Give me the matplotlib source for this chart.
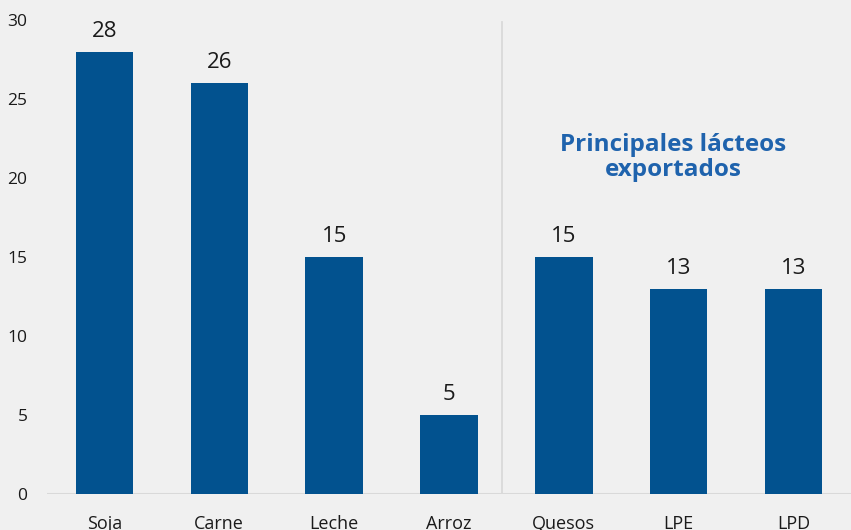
import matplotlib.pyplot as plt

categories = ['Soja', 'Carne', 'Leche', 'Arroz', 'Quesos', 'LPE', 'LPD']
values = [28, 26, 15, 5, 15, 13, 13]
yticks = [0, 5, 10, 15, 20, 25, 30]
note = 'Principales lácteos\nexportados'

bg = '#f0f0f0'
bar_color = '#02528f'
grid_color = '#d9d9d9'

plt.rcParams['font.family'] = ['Open Sans', 'DejaVu Sans']

fig = plt.figure(figsize=(8.51, 5.30), dpi=100, facecolor=bg)
ax = fig.add_axes([47/851, 36/530, 804/851, 474/530], facecolor=bg)

x = list(range(len(categories)))
bars = ax.bar(x, values, width=0.5, color=bar_color, zorder=3)

for xi, v in zip(x, values):
    ax.annotate(str(v), (xi, v), xytext=(0, 7), textcoords='offset points',
                ha='center', va='bottom', fontsize=16, color='#1a1a1a')

# separator between groups
ax.plot([3.46, 3.46], [0, 29.85], color=grid_color, lw=1.3, zorder=1)
ax.axhline(0, color=grid_color, lw=1.5, zorder=2)

ax.text(4.95, 21.3, note, ha='center', va='center', fontsize=17.5,
        fontweight='bold', color='#1f63ad', linespacing=1.05)

ax.set_xlim(-0.5, 6.5)
ax.set_ylim(0, 30)
ax.set_yticks(yticks)
ax.set_xticks(x)
ax.set_xticklabels(categories)
ax.tick_params(axis='y', length=0, pad=14, labelsize=12.5, labelcolor='#1a1a1a')
ax.tick_params(axis='x', length=0, pad=15, labelsize=13, labelcolor='#1a1a1a')
for s in ax.spines.values():
    s.set_visible(False)

fig.savefig('out.png', dpi=100, facecolor=bg)
